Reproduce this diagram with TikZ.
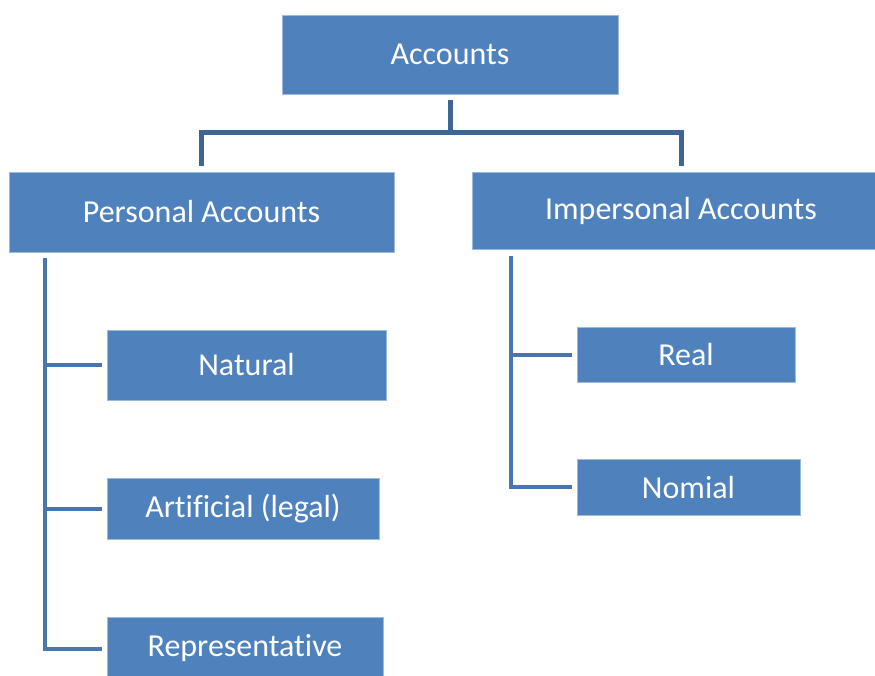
\documentclass[tikz,border=0pt]{standalone}
\usepackage{fontspec}
\setmainfont[Ligatures=NoCommon]{Carlito}
\definecolor{boxblue}{HTML}{4F81BD}
\definecolor{topline}{HTML}{3F6496}
\definecolor{subline}{HTML}{4A76B0}
\begin{document}
\begin{tikzpicture}[x=1pt,y=-1pt,
  acct/.style={rectangle,fill=boxblue,draw=boxblue!55!white,line width=0.8pt,
    text=white,font=\fontsize{32}{38}\selectfont,inner sep=0pt},
  topconn/.style={draw=topline,line width=5pt},
  subconn/.style={draw=subline,line width=4pt}]
\useasboundingbox (0,0) rectangle (875,675);
\clip (0,0) rectangle (875,675);
% boxes
\node[acct,minimum width=336,minimum height=79] (acc) at (450,54.5) {Accounts};
\node[acct,minimum width=385,minimum height=80] (pers) at (201.5,212) {Personal Accounts};
\node[acct,minimum width=418,minimum height=77] (imp) at (681,210.5) {Impersonal Accounts};
\node[acct,minimum width=279,minimum height=70] (nat) at (246.5,365) {Natural};
\node[acct,minimum width=272,minimum height=61] (art) at (243,508.5) {Artificial (legal)};
\node[acct,minimum width=276,minimum height=63] (rep) at (245,648.5) {Representative};
\node[acct,minimum width=218,minimum height=55] (real) at (686,354.5) {Real};
\node[acct,minimum width=223,minimum height=56] (nom) at (688.5,487) {Nomial};
% top level
\coordinate (bar) at (450,132.5);
\draw[topconn] ([yshift=-6pt]acc.south) -- (bar);
\draw[topconn] (bar) -| ([yshift=6pt]pers.north);
\draw[topconn] (bar) -| ([yshift=6pt]imp.north);
% personal
\coordinate (ptop) at (45,258);
\draw[subconn] (ptop) |- ([xshift=-5pt]rep.west);
\draw[subconn] (ptop |- nat.west) -- ([xshift=-5pt]nat.west);
\draw[subconn] (ptop |- art.west) -- ([xshift=-5pt]art.west);
% impersonal
\coordinate (itop) at (511,256);
\draw[subconn] (itop) |- ([xshift=-5pt]nom.west);
\draw[subconn] (itop |- real.west) -- ([xshift=-5pt]real.west);
\end{tikzpicture}
\end{document}
